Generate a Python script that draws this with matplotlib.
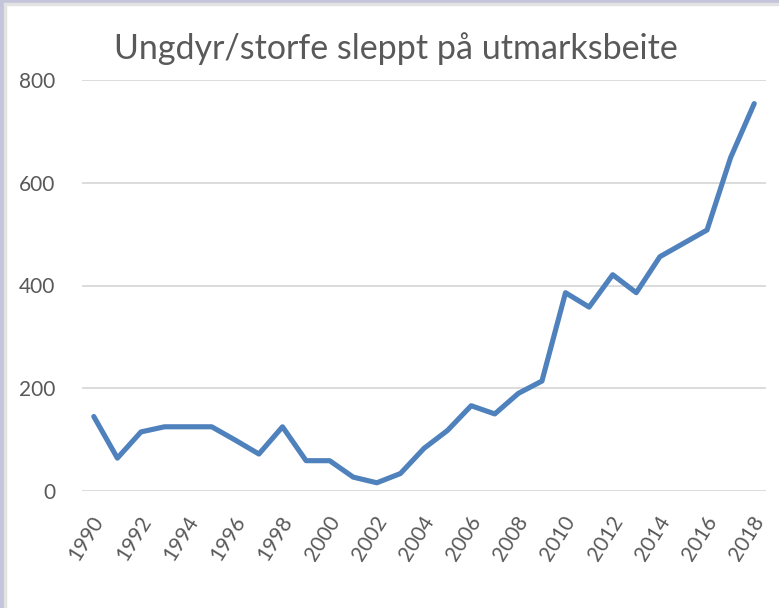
import numpy as np
import matplotlib.pyplot as plt
from matplotlib.patches import Rectangle
from matplotlib.transforms import ScaledTranslation

plt.rcParams['font.family'] = ['Lato', 'DejaVu Sans']

years = list(range(1990, 2019))
animals = [145, 64, 115, 125, 125, 125, 99, 72, 125, 59,
           59, 27, 16, 34, 83, 118, 166, 150, 190, 214,
           386, 358, 421, 386, 456, 482, 508, 649, 754]

title = 'Ungdyr/storfe sleppt på utmarksbeite'
grey_text = '#595959'

fig = plt.figure(figsize=(7.79, 6.08), dpi=100)
ax = fig.add_axes([82 / 779, 1 - 491 / 608, 684 / 779, 411 / 608])

ax.plot(years, animals, color='#4F81BD', linewidth=3.7,
        solid_capstyle='round', solid_joinstyle='round', zorder=3)

ax.set_xlim(1989.5, 2018.5)
ax.set_ylim(0, 800)
ax.set_yticks([0, 200, 400, 600, 800])
ax.set_xticks(years[::2])

ax.grid(axis='y', color='#D9D9D9', linewidth=1.3)
ax.set_axisbelow(True)
for s in ax.spines.values():
    s.set_visible(False)

ax.tick_params(axis='both', length=0, labelsize=15, labelcolor=grey_text)
ax.tick_params(axis='y', pad=19)
ax.tick_params(axis='x', pad=10)

# rotated year labels, ends sitting just right of each tick
offset = ScaledTranslation(4 / 72, -9 / 72, fig.dpi_scale_trans)
for lbl in ax.get_xticklabels():
    lbl.set_rotation(58)
    lbl.set_ha('right')
    lbl.set_va('center')
    lbl.set_rotation_mode('anchor')
    lbl.set_transform(lbl.get_transform() + offset)

fig.text(396 / 779, 1 - 49 / 608, title, ha='center', va='center',
         fontsize=24.5, color=grey_text)

# window frame around the chart
fig.patches.append(Rectangle((0, 0), 4 / 779, 1, transform=fig.transFigure,
                             color='#C4C4DA', zorder=0))
fig.patches.append(Rectangle((0, 1 - 3 / 608), 1, 3 / 608, transform=fig.transFigure,
                             color='#C4C4DA', zorder=0))
fig.patches.append(Rectangle((4 / 779, 0), 2 / 779, 1 - 3 / 608, transform=fig.transFigure,
                             color='#E2E2E2', zorder=0))
fig.patches.append(Rectangle((4 / 779, 1 - 5 / 608), 1, 2 / 608, transform=fig.transFigure,
                             color='#E2E2E2', zorder=0))

plt.savefig('out.png', dpi=100)
